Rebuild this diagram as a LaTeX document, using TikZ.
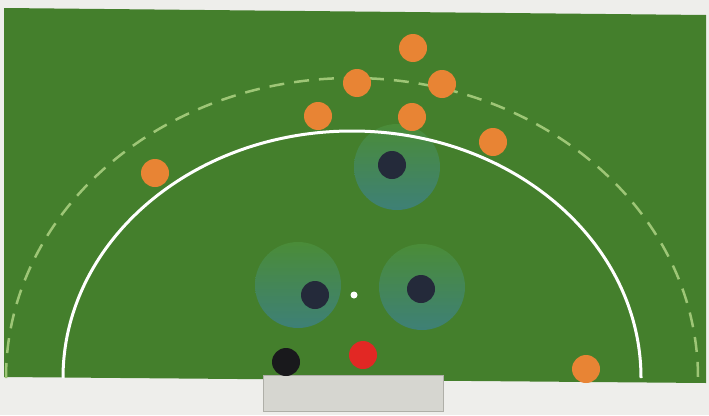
\documentclass[tikz,border=0pt]{standalone}
\definecolor{bg}{RGB}{238,238,235}
\definecolor{field}{RGB}{68,127,44}
\definecolor{orng}{RGB}{232,132,52}
\definecolor{darkb}{RGB}{36,42,58}
\definecolor{blackb}{RGB}{25,25,28}
\definecolor{redb}{RGB}{226,40,36}
\definecolor{dashc}{RGB}{158,198,118}
\definecolor{goalc}{RGB}{214,214,208}
\definecolor{goaledge}{RGB}{175,175,168}
\definecolor{shtop}{RGB}{74,140,56}
\definecolor{shmid}{RGB}{68,134,80}
\definecolor{shbot}{RGB}{62,128,118}
\tikzset{
  ball/.style={circle,inner sep=0pt,minimum size=28pt},
  orangeball/.style={ball,fill=orng},
  darkball/.style={ball,fill=darkb},
  zone/.style={circle,inner sep=0pt,minimum size=86pt,top color=shtop,middle color=shmid,bottom color=shbot},
  solidarc/.style={draw=white,line width=3pt},
  dasharc/.style={draw=dashc,line width=2.5pt,dash pattern=on 15pt off 10pt},
}
\begin{document}
\begin{tikzpicture}[x=1pt,y=-1pt]
\useasboundingbox (0,0) rectangle (709,415);
\fill[bg] (0,0) rectangle (709,415);
\fill[field] (4,8) -- (706,15) -- (706,383) -- (4,377) -- cycle;
% defence zones
\node[zone] (z1) at (397,167) {};
\node[zone] (z2) at (298,285) {};
\node[zone] (z3) at (422,287) {};
% circles
\coordinate (c) at (352,378);
\draw[dasharc] (c) ++(180:346 and 300) arc[start angle=180,end angle=360,x radius=346,y radius=300];
\draw[solidarc] (c) ++(180:289 and 247) arc[start angle=180,end angle=360,x radius=289,y radius=247];
% goal
\node[draw=goaledge,fill=goalc,line width=0.6pt,minimum width=180pt,minimum height=36pt,inner sep=0pt] (goal) at (353,393) {};
% defenders
\node[darkball] (d1) at (392,165) {};
\node[darkball] (d2) at (315,295) {};
\node[darkball] (d3) at (421,289) {};
\node[circle,fill=white,inner sep=0pt,minimum size=7pt] (pt) at (354,295) {};
\node[ball,fill=blackb] (gk) at (286,362) {};
\node[ball,fill=redb] (rb) at (363,355) {};
% attackers
\node[orangeball] (a1) at (413,48) {};
\node[orangeball] (a2) at (357,83) {};
\node[orangeball] (a3) at (442,84) {};
\node[orangeball] (a4) at (318,116) {};
\node[orangeball] (a5) at (412,117) {};
\node[orangeball] (a6) at (493,142) {};
\node[orangeball] (a7) at (155,173) {};
\node[orangeball] (a8) at (586,369) {};
\end{tikzpicture}
\end{document}
